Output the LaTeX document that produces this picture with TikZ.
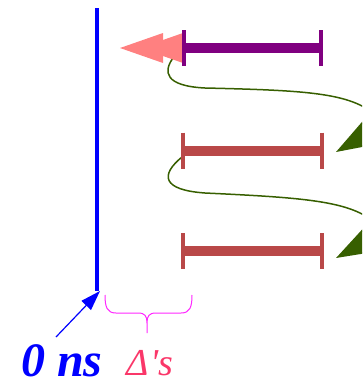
\documentclass[tikz,border=0pt]{standalone}
\usepackage{fontspec}
\setmainfont{Liberation Serif}
\newfontfamily\dfont{Liberation Serif}
\usetikzlibrary{arrows.meta}
\definecolor{barred}{RGB}{185,72,72}
\definecolor{barpurple}{RGB}{128,0,128}
\definecolor{salmonc}{RGB}{255,128,128}
\definecolor{greenc}{RGB}{55,95,0}
\definecolor{deltac}{RGB}{250,55,105}
\definecolor{bracec}{RGB}{255,40,255}
\tikzset{
  barline/.style={line width=10pt},
  barend/.style={line width=4.5pt},
  greenarrow/.style={draw=greenc, line width=1.5pt, -{Triangle[length=38pt,width=26pt]}},
  bluearrow/.style={draw=blue, line width=1.2pt, -{Triangle[length=20pt,width=13pt]}},
  bracestyle/.style={draw=bracec, line width=1pt},
  headfill/.style={fill=salmonc},
}
\begin{document}
\begin{tikzpicture}[x=1pt,y=-1pt]
\useasboundingbox (0,0) rectangle (362,383);
\clip (0,0) rectangle (362,383);
% coordinates
\coordinate (p1l) at (184,48);
\coordinate (p1r) at (321,48);
\coordinate (r1l) at (183,150.5);
\coordinate (r1r) at (322,150.5);
\coordinate (r2l) at (183,251);
\coordinate (r2r) at (322,251);
\coordinate (s1) at (173,58);
\coordinate (t1) at (336,152);
\coordinate (s2) at (182,157);
\coordinate (t2) at (336,258);
\coordinate (vtop) at (97,8);
\coordinate (vbot) at (97,291);
\coordinate (atip) at (100,291);
\coordinate (astart) at (56,337);
% green curves
\draw[greenarrow] (s1) .. controls (163,72) and (165,86) .. (205,88)
   .. controls (290,90) and (335,92) .. (362,106)
   .. controls (385,118) and (388,122) .. (t1);
\draw[greenarrow] (s2) .. controls (160,175) and (162,190) .. (205,193)
   .. controls (290,197) and (335,200) .. (362,214)
   .. controls (385,226) and (388,230) .. (t2);
% salmon double head
\fill[headfill] (120,48) -- (163,33) -- (163,63) -- cycle;
\fill[headfill] (140,48) -- (183,33) -- (183,63) -- cycle;
% bars
\draw[barline,barpurple] (p1l) -- (p1r);
\draw[barend,barpurple] (p1l) ++(0,-18) -- ++(0,36);
\draw[barend,barpurple] (p1r) ++(0,-18) -- ++(0,36);
\draw[barline,barred] (r1l) -- (r1r);
\draw[barend,barred] (r1l) ++(0,-18) -- ++(0,36);
\draw[barend,barred] (r1r) ++(0,-18) -- ++(0,36);
\draw[barline,barred] (r2l) -- (r2r);
\draw[barend,barred] (r2l) ++(0,-18) -- ++(0,36);
\draw[barend,barred] (r2r) ++(0,-18) -- ++(0,36);
% blue time line
\draw[blue,line width=4pt] (vtop) -- (vbot);
\draw[bluearrow] (astart) -- (atip);
% brace
\draw[bracestyle] (105,295) .. controls (105,307) and (107,313) .. (116,313)
  -- (138,313) .. controls (145,313) and (147,316) .. (147,323) -- (147,333)
  -- (147,323) .. controls (147,316) and (149,313) .. (156,313)
  -- (181,313) .. controls (190,313) and (192,307) .. (192,295);
% labels
\node[anchor=base west, inner sep=0pt, text=blue, font=\fontsize{48}{48}\selectfont\bfseries\itshape] (zero) at (21,376) {0 ns};
\node[anchor=base west, inner sep=0pt, text=deltac, font=\fontsize{38}{38}\selectfont\dfont\itshape] (deltas) at (126,375) {Δ\kern2pt's};
\end{tikzpicture}
\end{document}
